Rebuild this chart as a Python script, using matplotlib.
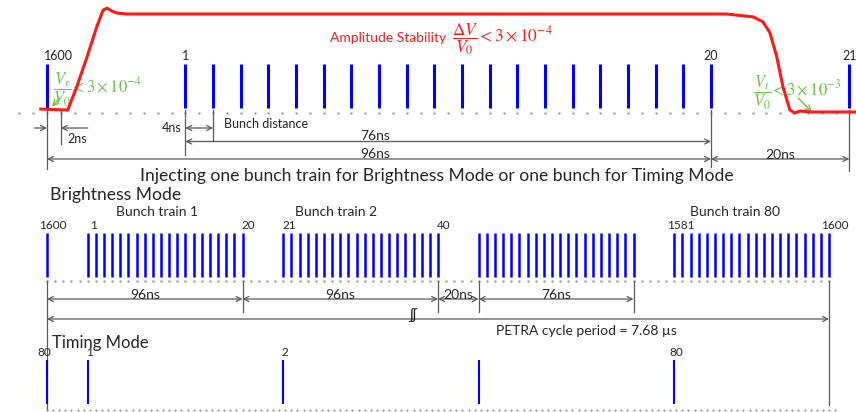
import matplotlib.pyplot as plt
import numpy as np

plt.rcParams["font.family"] = ["Lato", "DejaVu Sans"]
plt.rcParams["mathtext.fontset"] = "stix"

# bunch pattern
BUNCH_SPACING_NS = 4
TRAIN_GAP_NS = 20
BUNCHES_PER_TRAIN = 20
TRAIN_PERIOD_NS = 96

# top panel: bunch 1600, train 1 (bunches 1..20), bunch 21
top_train_start_ns = 20
top_single_ns = [0, 116]
top_labels = ["1600", "1", "20", "21"]
top_label_ns = [0, 20, 96, 116]

# kicker amplitude (relative to V0)
amp_t_ns = [-0.9, 3.0, 4.3, 5.8, 7.2, 8.1, 8.7, 9.4, 10.1, 11.6, 98.3, 102.1,
            103.5, 104.5, 105.5, 106.4, 107.4, 108.1, 108.9, 110.3, 117.0]
amp_rel = [0.02, 0.01, 0.25, 0.56, 0.87, 1.04, 1.06, 1.03, 1.01, 1.00, 1.00, 0.97,
           0.92, 0.81, 0.56, 0.25, 0.01, -0.02, 0.00, -0.01, -0.01]

# brightness mode: schematic of trains 1, 2, 3 and 80
mid_train_start_ns = [20, 116, 212, 308]
mid_labels = ["1600", "1", "20", "21", "40", "1581", "1600"]
mid_label_ns = [0, 20, 96, 116, 192, 308, 384]
train_names = ["Bunch train 1", "Bunch train 2", "Bunch train 80"]
train_name_ns = [54, 142, 338]

# timing mode: one bunch per train
timing_ns = [0, 20, 116, 212, 308]
timing_labels = ["80", "1", "2", "", "80"]

BLUE = "#0000ff"
RED = "#ff1a1a"
GREEN = "#6cc24a"
GREY = "#595959"
DOT = "#8c8c8c"
TXT = "#262626"

fig = plt.figure(figsize=(8.56, 4.12), dpi=100)

# axes in ns (x) and pixel rows (y); two time scales share one canvas
ax_top = fig.add_axes([0, 0, 1, 1])
ax_top.set_xlim(-47 / 6.9167, 809 / 6.9167)
ax_top.set_ylim(412, 0)
ax_top.axis("off")

ax_amp = fig.add_axes([0, 0, 1, 1], label="amp")
ax_amp.set_xlim(ax_top.get_xlim())
ax_amp.set_ylim((111 - 412) / 97, 111 / 97)
ax_amp.axis("off")

ax_mid = fig.add_axes([0, 0, 1, 1], label="mid")
ax_mid.set_xlim(-47 / 2.0365, 809 / 2.0365)
ax_mid.set_ylim(412, 0)
ax_mid.axis("off")


def dim(ax, x0, x1, y, style="<->"):
    ax.annotate("", xy=(x1, y), xytext=(x0, y),
                arrowprops=dict(arrowstyle=style, color=GREY, lw=0.9,
                                shrinkA=0, shrinkB=0, mutation_scale=9))


def vline(ax, x, y0, y1):
    ax.plot([x, x], [y0, y1], color=GREY, lw=0.9)


# ---- top panel: one injection
top_bunches = np.concatenate([[top_single_ns[0]],
                              top_train_start_ns + BUNCH_SPACING_NS * np.arange(BUNCHES_PER_TRAIN),
                              [top_single_ns[1]]])
dots = np.arange(-4, 120, 2)
ax_top.plot(dots, np.full(dots.shape, 113), ls="none", marker="s", ms=1.8, color=DOT, mec="none")
ax_top.vlines(top_bunches, 64, 108, color=BLUE, lw=2.2)
for lab, t in zip(top_labels, top_label_ns):
    dx = 1.6 if lab == "1600" else 0
    ax_top.text(t + dx, 56, lab, ha="center", va="center", fontsize=9, color=TXT)

ax_amp.plot(amp_t_ns, amp_rel, color=RED, lw=2.2, zorder=5)
ax_top.text(330 / 6.9167 - 6.795, 38, "Amplitude Stability",
            color=RED, fontsize=10, ha="left", va="center")
ax_top.text(452 / 6.9167 - 6.795, 39, r"$\dfrac{\Delta V}{V_0} < 3\times10^{-4}$",
            color=RED, fontsize=12.5, ha="left", va="center")

ax_top.text(0.9, 90, r"$\dfrac{V_r}{V_0}\!<3\times10^{-4}$", color=GREEN, fontsize=12,
            ha="left", va="center")
ax_top.annotate("", xy=(0.7, 106.5), xytext=(1.9, 98),
                arrowprops=dict(arrowstyle="->", color=GREEN, lw=1.0, shrinkA=0, shrinkB=0))
ax_top.text(102.1, 93, r"$\dfrac{V_t}{V_0}\!<3\times10^{-3}$", color=GREEN, fontsize=12,
            ha="left", va="center")
ax_top.annotate("", xy=(110.6, 112), xytext=(108.6, 98),
                arrowprops=dict(arrowstyle="->", color=GREEN, lw=1.0, shrinkA=0, shrinkB=0))

vline(ax_top, 0, 110, 169)
vline(ax_top, 2, 110, 144)
vline(ax_top, 20, 110, 155)
vline(ax_top, 24, 110, 141)
vline(ax_top, 96, 110, 167)
vline(ax_top, 116, 110, 171)
dim(ax_top, -1.8, 0, 128, "->")
dim(ax_top, 5.9, 2, 128, "->")
ax_top.text(2.9, 139, "2ns", fontsize=9, color=TXT, ha="left", va="center")
dim(ax_top, 20, 24, 128)
ax_top.text(19.4, 128, "4ns", fontsize=9, color=TXT, ha="right", va="center")
ax_top.text(25.6, 124, "Bunch distance", fontsize=9, color=TXT, ha="left", va="center")
dim(ax_top, 20, 96, 141.5)
ax_top.text(47.5, 136, "76ns", fontsize=10, color=TXT, ha="center", va="center")
dim(ax_top, 0, 96, 159)
ax_top.text(47.5, 154, "96ns", fontsize=10, color=TXT, ha="center", va="center")
dim(ax_top, 96, 116, 159)
ax_top.text(106, 155, "20ns", fontsize=10, color=TXT, ha="center", va="center")
ax_top.text(56.3, 176, "Injecting one bunch train for Brightness Mode or one bunch for Timing Mode",
            fontsize=12.6, color=TXT, ha="center", va="center")

# ---- brightness mode
mid_bunches = np.concatenate([[0]] + [s + BUNCH_SPACING_NS * np.arange(BUNCHES_PER_TRAIN)
                                      for s in mid_train_start_ns])
dots = np.arange(0, 388, BUNCH_SPACING_NS)
ax_mid.plot(dots, np.full(dots.shape, 281), ls="none", marker="s", ms=1.6, color=DOT, mec="none")
ax_mid.vlines(mid_bunches, 233, 277, color=BLUE, lw=1.8)
ax_mid.text(1.5, 195, "Brightness Mode", fontsize=12.6, color=TXT, ha="left", va="center")
for name, t in zip(train_names, train_name_ns):
    ax_mid.text(t, 212, name, fontsize=10, color=TXT, ha="center", va="center")
for lab, t in zip(mid_labels, mid_label_ns):
    ax_mid.text(t + 3, 225, lab, fontsize=8.5, color=TXT, ha="center", va="center")

vline(ax_mid, 0, 281, 410)
for t in [96, 192, 212, 288]:
    vline(ax_mid, t, 281, 312)
vline(ax_mid, 384, 281, 405)
dim(ax_mid, 0, 96, 299)
dim(ax_mid, 96, 192, 299)
dim(ax_mid, 192, 212, 299)
dim(ax_mid, 212, 288, 299)
for t, lab in [(48, "96ns"), (144, "96ns"), (202, "20ns"), (250, "76ns")]:
    ax_mid.text(t, 295, lab, fontsize=10, color=TXT, ha="center", va="center")
dim(ax_mid, 0, 384, 319)
ax_mid.text(179.7, 315, "ʃʃ", fontsize=11, color=TXT, ha="center", va="center")
ax_mid.text(264.7, 331, "PETRA cycle period = 7.68 µs", fontsize=10,
            color=TXT, ha="center", va="center")

# ---- timing mode
ax_mid.text(2.5, 343, "Timing Mode", fontsize=12, color=TXT, ha="left", va="center")
ax_mid.vlines(timing_ns, 360, 404, color=BLUE, lw=1.5)
for lab, t in zip(timing_labels, timing_ns):
    ax_mid.text(t - 1.5 if t == 0 else t + 1, 353, lab, fontsize=8.5, color=TXT,
                ha="center", va="center")
dots = np.arange(0, 388, 3)
ax_mid.plot(dots, np.full(dots.shape, 410), ls="none", marker="s", ms=1.3, color=DOT, mec="none")

fig.savefig("out.png", dpi=100)
